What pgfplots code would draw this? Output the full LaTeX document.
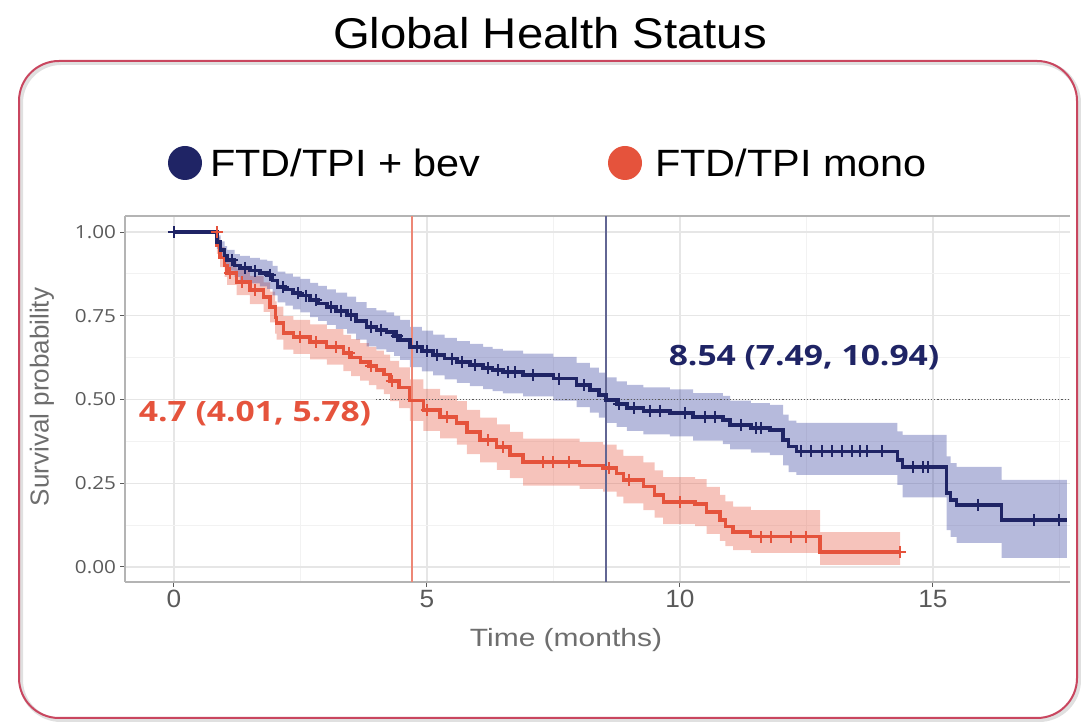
\documentclass[border=0pt]{standalone}
\usepackage{fontspec}
\setmainfont{Liberation Sans}
\newfontfamily\opensans{Open Sans}
\usepackage{pgfplots}
\usepackage{pgfplotstable}
\pgfplotsset{compat=1.18}
\usepgfplotslibrary{fillbetween}

\definecolor{bevnavy}{HTML}{1F2465}
\definecolor{bevband}{HTML}{3A44A0}
\definecolor{monored}{HTML}{E5533C}
\definecolor{framered}{HTML}{C9465F}
\definecolor{tickgrey}{HTML}{5A5A5A}
\definecolor{labelgrey}{HTML}{6E6E6E}
\definecolor{gridmajor}{HTML}{E6E6E6}
\definecolor{gridminor}{HTML}{F2F2F2}
\definecolor{axisgrey}{HTML}{B4B4B4}

% Kaplan-Meier estimate with 95% band: time, survival, lower, upper
\pgfplotstableread{
t s lo hi
0 1.000 1.000 1.000
0.85 0.970 0.950 0.990
0.92 0.946 0.920 0.972
1.00 0.930 0.902 0.958
1.05 0.916 0.885 0.947
1.20 0.900 0.866 0.934
1.30 0.893 0.857 0.929
1.50 0.885 0.847 0.923
1.70 0.878 0.838 0.918
1.84 0.872 0.830 0.914
1.95 0.855 0.811 0.899
2.05 0.836 0.790 0.882
2.20 0.828 0.780 0.876
2.35 0.818 0.769 0.867
2.50 0.810 0.760 0.860
2.69 0.797 0.746 0.848
2.85 0.787 0.735 0.839
3.02 0.776 0.723 0.829
3.20 0.765 0.711 0.819
3.42 0.752 0.697 0.807
3.60 0.735 0.679 0.791
3.81 0.716 0.659 0.773
4.00 0.708 0.650 0.766
4.20 0.701 0.642 0.760
4.35 0.690 0.630 0.750
4.47 0.678 0.618 0.738
4.66 0.657 0.597 0.717
4.90 0.645 0.584 0.706
5.12 0.633 0.572 0.694
5.35 0.622 0.560 0.684
5.59 0.612 0.550 0.674
5.85 0.603 0.540 0.666
6.11 0.594 0.531 0.657
6.30 0.588 0.525 0.651
6.50 0.582 0.518 0.646
6.90 0.573 0.509 0.637
7.50 0.562 0.497 0.627
7.96 0.543 0.477 0.609
8.22 0.528 0.461 0.595
8.40 0.513 0.446 0.580
8.54 0.498 0.430 0.566
8.75 0.486 0.418 0.554
8.95 0.475 0.406 0.544
9.28 0.466 0.396 0.536
9.80 0.460 0.390 0.530
10.26 0.448 0.377 0.519
10.85 0.439 0.367 0.511
10.99 0.424 0.351 0.497
11.40 0.415 0.341 0.489
11.78 0.409 0.334 0.484
12.04 0.379 0.303 0.455
12.15 0.360 0.283 0.437
12.30 0.345 0.275 0.430
14.30 0.319 0.245 0.405
14.40 0.299 0.208 0.394
15.27 0.221 0.110 0.330
15.35 0.200 0.090 0.310
15.47 0.185 0.072 0.299
16.36 0.140 0.027 0.260
17.65 0.140 0.027 0.260
}\bevtable

\pgfplotstableread{
t s lo hi
0 1.000 1.000 1.000
0.85 0.960 0.935 0.985
0.91 0.925 0.895 0.955
1.00 0.900 0.866 0.934
1.05 0.878 0.842 0.914
1.24 0.851 0.812 0.890
1.50 0.827 0.785 0.869
1.77 0.806 0.762 0.850
1.90 0.776 0.730 0.822
2.00 0.745 0.697 0.793
2.03 0.728 0.679 0.777
2.16 0.699 0.649 0.749
2.36 0.687 0.636 0.738
2.69 0.672 0.620 0.724
3.02 0.657 0.604 0.710
3.35 0.639 0.585 0.693
3.50 0.625 0.570 0.680
3.68 0.612 0.556 0.668
3.85 0.600 0.543 0.657
4.00 0.588 0.530 0.646
4.15 0.575 0.516 0.634
4.27 0.555 0.495 0.615
4.45 0.535 0.474 0.596
4.66 0.498 0.436 0.560
4.93 0.469 0.406 0.532
5.26 0.448 0.384 0.512
5.59 0.430 0.365 0.495
5.79 0.403 0.337 0.469
6.05 0.379 0.312 0.446
6.38 0.358 0.290 0.426
6.64 0.334 0.265 0.403
6.90 0.313 0.243 0.383
8.02 0.303 0.233 0.373
8.48 0.295 0.225 0.365
8.75 0.280 0.210 0.350
8.88 0.260 0.190 0.332
9.28 0.240 0.170 0.312
9.50 0.215 0.147 0.288
9.67 0.194 0.128 0.268
10.30 0.188 0.122 0.262
10.53 0.164 0.099 0.239
10.79 0.140 0.078 0.215
10.90 0.120 0.062 0.196
11.05 0.104 0.050 0.180
11.40 0.090 0.042 0.170
12.77 0.045 0.006 0.104
14.35 0.045 0.006 0.104
}\monotable

\begin{document}
\begin{tikzpicture}
\begin{scope}[x=1pt,y=1pt]
% page area
\path (0,0) rectangle (1081,722);
% rounded panel frame with a soft shadow
\draw[black!12, line width=4pt, rounded corners=40pt] (21,2) rectangle (1079,659);
\draw[framered, line width=2pt, rounded corners=40pt] (19,4) rectangle (1077,661);
% title
\node[font=\fontsize{43}{48}\selectfont, xscale=1.1, anchor=base] at (550,673) {Global Health Status};
% legend
\fill[bevnavy] (185,559) circle (17pt);
\node[font=\fontsize{38}{42}\selectfont, xscale=1.09, anchor=base west, inner sep=0pt] at (210,545) {FTD/TPI + bev};
\fill[monored] (625,559) circle (17pt);
\node[font=\fontsize{38}{42}\selectfont, xscale=1.09, anchor=base west, inner sep=0pt] at (655,545) {FTD/TPI mono};
\end{scope}

\begin{axis}[
  at={(125pt,140pt)}, anchor=south west,
  width=945pt, height=366pt, scale only axis,
  xmin=-0.968, xmax=17.71, ymin=-0.045, ymax=1.048,
  axis x line*=bottom, axis y line*=left,
  axis line style={-, draw=axisgrey, line width=1.5pt},
  xtick={0,5,10,15},
  xticklabels={0,5,10,15},
  ytick={0,0.25,0.5,0.75,1},
  yticklabels={0.00,0.25,0.50,0.75,1.00},
  minor xtick={2.5,7.5,12.5,17.5},
  minor ytick={0.125,0.375,0.625,0.875},
  grid=both,
  major grid style={draw=gridmajor, line width=1.2pt},
  minor grid style={draw=gridminor, line width=0.9pt},
  tick align=outside,
  major tick length=5pt, minor tick length=0pt,
  tick style={draw=tickgrey, line width=1pt},
  xticklabel style={font=\fontsize{25}{28}\selectfont, text=tickgrey, xscale=1.05},
  yticklabel style={font=\opensans\fontsize{18}{20}\selectfont, text=tickgrey, xscale=1.15},
]
% panel top edge
\addplot[axisgrey, line width=1.5pt] coordinates {(-0.968,1.048) (17.71,1.048)};

% confidence bands
\addplot[name path=bevlo, const plot, draw=none, forget plot] table[x=t, y=lo] {\bevtable};
\addplot[name path=bevhi, const plot, draw=none, forget plot] table[x=t, y=hi] {\bevtable};
\addplot[name path=monolo, const plot, draw=none, forget plot] table[x=t, y=lo] {\monotable};
\addplot[name path=monohi, const plot, draw=none, forget plot] table[x=t, y=hi] {\monotable};
\addplot[fill=monored, fill opacity=0.35, draw=none] fill between[of=monohi and monolo];
\addplot[fill=bevband, fill opacity=0.37, draw=none] fill between[of=bevhi and bevlo];

% median reference lines
\addplot[draw=monored!70, line width=1.8pt] coordinates {(4.7,-0.045) (4.7,1.048)};
\addplot[draw=bevnavy!70, line width=1.8pt] coordinates {(8.54,-0.045) (8.54,1.048)};
\addplot[draw=black!65, line width=1.1pt, dotted] coordinates {(4.0,0.5) (17.71,0.5)};

% survival curves
\addplot[const plot, monored, line width=3.3pt] table[x=t, y=s] {\monotable};
\addplot[const plot, bevnavy, line width=3.5pt] table[x=t, y=s] {\bevtable};

% censoring marks
\addplot[only marks, mark=+, mark size=6pt, monored, line width=2pt] coordinates {
(0.85,1.0) (1.1,0.878) (1.35,0.851) (1.6,0.827) (2.5,0.687) (2.8,0.672) (3.2,0.657)
(3.45,0.639) (3.9,0.600) (4.3,0.555) (5.0,0.469) (5.4,0.448) (6.2,0.379) (6.5,0.358)
(7.3,0.313) (7.5,0.313) (7.8,0.313) (8.6,0.295) (9.0,0.260) (10.0,0.194)
(11.6,0.090) (11.8,0.090) (12.2,0.090) (12.5,0.090) (14.35,0.045)};
\addplot[only marks, mark=+, mark size=6pt, bevnavy, line width=2pt] coordinates {
(0,1.0) (1.15,0.916) (1.4,0.893) (1.6,0.885) (1.9,0.872) (2.15,0.836) (2.45,0.818)
(2.6,0.810) (2.8,0.797) (3.1,0.776) (3.3,0.765) (3.5,0.752) (3.9,0.716) (4.1,0.708)
(4.4,0.690) (4.8,0.657) (5.0,0.645) (5.2,0.633) (5.5,0.622) (5.7,0.612) (5.95,0.603)
(6.2,0.594) (6.4,0.588) (6.6,0.582) (6.75,0.582) (7.1,0.573) (7.6,0.562) (8.1,0.543)
(8.8,0.486) (9.1,0.475) (9.4,0.466) (9.6,0.466) (10.1,0.460) (10.5,0.448) (10.7,0.448)
(11.2,0.424) (11.5,0.415) (11.6,0.415) (12.4,0.345) (12.6,0.345) (12.8,0.345)
(13.0,0.345) (13.2,0.345) (13.4,0.345) (13.55,0.345) (13.7,0.345) (14.0,0.345)
(14.6,0.299) (14.8,0.299) (14.9,0.299) (15.9,0.185) (17.0,0.140) (17.5,0.140)};
\end{axis}

\begin{scope}[x=1pt,y=1pt]
% median annotations
\node[font=\opensans\bfseries\fontsize{28}{32}\selectfont, text=bevnavy, xscale=1.2] at (804,364) {8.54 (7.49, 10.94)};
\node[font=\opensans\bfseries\fontsize{28}{32}\selectfont, text=monored, xscale=1.2] at (255,308) {4.7 (4.01, 5.78)};
% axis titles
\node[font=\fontsize{26}{30}\selectfont, text=labelgrey, rotate=90] at (42,325) {Survival probability};
\node[font=\fontsize{25}{30}\selectfont, text=labelgrey, xscale=1.2] at (566,82) {Time (months)};
\end{scope}
\end{tikzpicture}
\end{document}
